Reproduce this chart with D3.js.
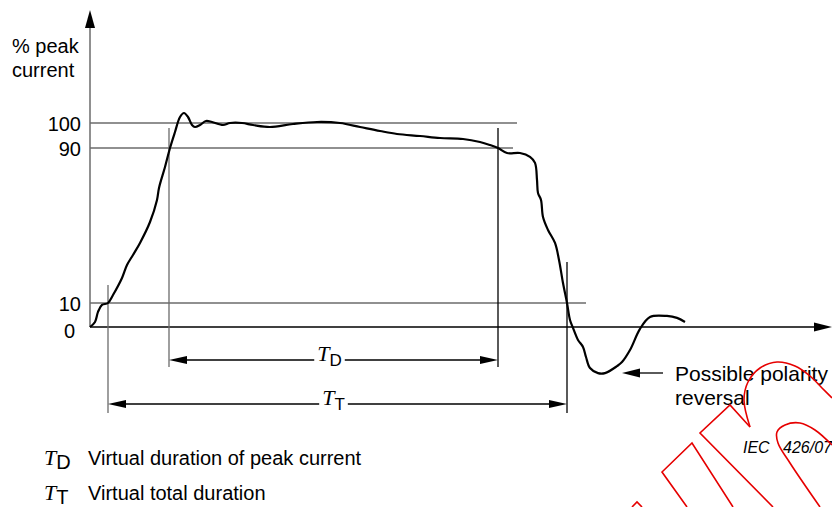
<!DOCTYPE html>
<html>
<head>
<meta charset="utf-8">
<title>Peak current - virtual durations</title>
<script src="https://cdn.jsdelivr.net/npm/d3@7"></script>
<style>
  body { margin: 0; background: #fff; }
  svg { display: block; font-family: "Liberation Sans", Arial, sans-serif; }
</style>
</head>
<body>
<svg id="chart" width="832" height="507"></svg>
<script>
  // waveform: time (arbitrary units) and current (% of peak)
  const waveTime = [0, 1.25, 2, 3, 4.5, 5.75, 8, 9.25, 10.75, 12.5, 15, 16.75, 17.25, 18.75, 20,
    21.25, 22.5, 23.5, 24.5, 25.5, 26.25, 27.5, 29, 30.5, 33.25, 35, 38, 40.75, 45, 50.75,
    56.75, 62.5, 67.5, 72.5, 76.75, 82.5, 87.5, 93.25, 97.5, 100, 102, 104.25, 107.5, 110, 111.25,
    111.75, 112, 112.75, 113.25, 114.5, 116.25, 117.25, 118.25, 119.25, 120, 120.75, 122, 123.25, 124, 125,
    127, 128.75, 131.75, 133, 135, 137.5, 140, 144.25, 146.75, 148.75];
  const waveCurrent = [0, 2.1, 6.3, 9.2, 10, 14.1, 22.9, 29.6, 34.8, 41, 51.8, 63.2, 69.4, 80.2, 90,
    96.4, 102.4, 104, 102.4, 99.2, 98.4, 99.2, 100.8, 100.4, 99.2, 100, 100, 99.2, 98.4, 99.6,
    100.4, 100, 98.4, 96.8, 95.6, 94.8, 94, 93.6, 92.4, 91.2, 90, 87.4, 87.4, 85.4, 82.3,
    73.5, 66.8, 63.2, 54.4, 47.7, 41, 32.2, 20.3, 10, 2.9, -0.4, -5.4, -8.3, -12.5, -17.1,
    -19.2, -19.2, -16.3, -14.6, -9.6, -0.8, 4.2, 4.6, 3.8, 2.1];

  const yTicks = [0, 10, 90, 100];
  const levels = [100, 90, 10];
  const levelEnds = [106.75, 105.75, 124];          // time where each level line stops
  const markerTimes = [4.5, 19.75, 102, 119.25];    // 10% rise, 90% rise, 90% fall, 10% fall
  const durationNames = ["D", "T"];
  const legendText = ["Virtual duration of peak current", "Virtual total duration"];

  const svg = d3.select("#chart");
  const grey = "#6b6b6b";

  // the figure is schematic, so the y axis is stretched between 10 and 90
  const x = d3.scaleLinear().domain([0, 185.5]).range([90, 832]);
  const y = d3.scaleLinear().domain([0, 10, 90, 100]).range([327, 303, 148, 123]);

  function arrowHead(g, tipX, tipY, dir, len, half, vertical) {
    let pts;
    if (vertical) pts = [[tipX, tipY], [tipX - half, tipY + dir * len], [tipX + half, tipY + dir * len]];
    else pts = [[tipX, tipY], [tipX + dir * len, tipY - half], [tipX + dir * len, tipY + half]];
    g.append("path")
      .attr("d", "M" + pts.join("L") + "Z")
      .attr("fill", "#000");
  }

  // level lines
  svg.append("g")
    .selectAll("line")
    .data(levels)
    .join("line")
      .attr("x1", x(0))
      .attr("x2", (d, i) => x(levelEnds[i]))
      .attr("y1", d => y(d))
      .attr("y2", d => y(d))
      .attr("stroke", grey)
      .attr("stroke-width", 1.5);

  // axes
  const axes = svg.append("g");
  axes.append("line")
    .attr("x1", x(0)).attr("x2", x(0))
    .attr("y1", y(0)).attr("y2", 24)
    .attr("stroke", grey).attr("stroke-width", 1.5);
  arrowHead(axes, x(0), 10, 1, 18, 5, true);
  axes.append("line")
    .attr("x1", x(0)).attr("x2", 818)
    .attr("y1", y(0)).attr("y2", y(0))
    .attr("stroke", "#000").attr("stroke-width", 1.3);
  arrowHead(axes, 832, y(0), -1, 18, 4.5, false);

  const yAxis = svg.append("g")
    .attr("transform", "translate(" + x(0) + ",0)")
    .call(d3.axisLeft(y).tickValues(yTicks).tickSize(0).tickPadding(9).tickFormat(d3.format("d")));
  yAxis.select(".domain").remove();
  yAxis.selectAll("text")
    .attr("font-size", 20)
    .attr("font-family", "Liberation Sans, Arial, sans-serif")
    .attr("fill", "#000")
    .attr("dy", "0.38em");
  yAxis.selectAll(".tick").filter(d => d === 0).select("text")
    .attr("x", -15).attr("dy", "0.5em");

  svg.append("text")
    .attr("x", 12).attr("y", 53)
    .attr("font-size", 20)
    .text("% peak");
  svg.append("text")
    .attr("x", 12).attr("y", 77)
    .attr("font-size", 20)
    .text("current");

  // marker lines at the 10 % and 90 % crossings
  const markerTop = [285, 128, 128, 262];
  const markerBottom = [413, 367, 367, 413];
  const markerColour = [grey, grey, "#000", "#000"];
  svg.append("g")
    .selectAll("line")
    .data(markerTimes)
    .join("line")
      .attr("x1", d => x(d)).attr("x2", d => x(d))
      .attr("y1", (d, i) => markerTop[i])
      .attr("y2", (d, i) => markerBottom[i])
      .attr("stroke", (d, i) => markerColour[i])
      .attr("stroke-width", 1.3);

  // waveform
  const line = d3.line()
    .x((d, i) => x(waveTime[i]))
    .y(d => y(d))
    .curve(d3.curveCatmullRom.alpha(0.5));
  svg.append("path")
    .datum(waveCurrent)
    .attr("d", line)
    .attr("fill", "none")
    .attr("stroke", "#000")
    .attr("stroke-width", 2.2)
    .attr("stroke-linejoin", "round");

  // T label with subscript
  function tLabel(g, cx, by, sub, size, subSize, subDy) {
    const t = g.append("text")
      .attr("x", cx).attr("y", by)
      .attr("text-anchor", cx === null ? "start" : "middle");
    t.append("tspan")
      .attr("font-family", "Liberation Serif, Times New Roman, serif")
      .attr("font-style", "italic")
      .attr("font-size", size)
      .text("T");
    t.append("tspan")
      .attr("font-size", subSize)
      .attr("dy", subDy)
      .text(sub);
    return t;
  }

  // duration arrows
  const spans = [[markerTimes[1], markerTimes[2]], [markerTimes[0], markerTimes[3]]];
  const rowY = [360, 404];
  spans.forEach(function(s, i) {
    const g = svg.append("g");
    const x0 = x(s[0]), x1 = x(s[1]);
    const label = tLabel(g, (x0 + x1) / 2 - 4, rowY[i] + 1, durationNames[i], 22, 17, 5);
    const box = label.node().getBBox();
    g.append("line")
      .attr("x1", x0 + 10).attr("x2", box.x - 3)
      .attr("y1", rowY[i]).attr("y2", rowY[i])
      .attr("stroke", "#000").attr("stroke-width", 1.3);
    g.append("line")
      .attr("x1", box.x + box.width + 3).attr("x2", x1 - 10)
      .attr("y1", rowY[i]).attr("y2", rowY[i])
      .attr("stroke", "#000").attr("stroke-width", 1.3);
    arrowHead(g, x0, rowY[i], 1, 18, 4, false);
    arrowHead(g, x1, rowY[i], -1, 18, 4, false);
  });

  // polarity reversal note
  const note = svg.append("g");
  note.append("line")
    .attr("x1", 636).attr("x2", 663)
    .attr("y1", 373).attr("y2", 373)
    .attr("stroke", "#000").attr("stroke-width", 1.3);
  arrowHead(note, 622, 373, 1, 18, 4.5, false);
  note.append("text")
    .attr("x", 675).attr("y", 381)
    .attr("font-size", 21)
    .text("Possible polarity");
  note.append("text")
    .attr("x", 675).attr("y", 405)
    .attr("font-size", 21)
    .text("reversal");

  // legend
  legendText.forEach(function(d, i) {
    const by = 465 + i * 35;
    const t = svg.append("text")
      .attr("x", 44).attr("y", by);
    t.append("tspan")
      .attr("font-family", "Liberation Serif, Times New Roman, serif")
      .attr("font-style", "italic")
      .attr("font-size", 22)
      .text("T");
    t.append("tspan")
      .attr("font-size", 20)
      .attr("dy", 4)
      .text(durationNames[i]);
    svg.append("text")
      .attr("x", 88).attr("y", by)
      .attr("font-size", 20)
      .text(d);
  });

  svg.append("text")
    .attr("x", 743).attr("y", 453)
    .attr("font-size", 16)
    .attr("font-style", "italic")
    .attr("xml:space", "preserve")
    .text("IEC   426/07");

  // red stamp outline over the lower right corner
  const stampStrokes = [
    [[750, 427], [744, 400], [748, 382], [760, 368], [777, 362], [795, 366], [810, 376], [822, 388], [832, 398]],
    [[750, 427], [730, 405], [700, 433], [773, 507]],
    [[733, 507], [692, 443], [662, 472], [687, 507]],
    [[820, 507], [790, 463], [778, 443], [777, 432], [785, 425], [800, 423], [815, 430], [832, 445]],
    [[632, 507], [637, 502], [642, 507]]
  ];
  svg.append("g")
    .selectAll("path")
    .data(stampStrokes)
    .join("path")
      .attr("d", d => d.length > 4 ? d3.line().curve(d3.curveCatmullRom)(d) : d3.line()(d))
      .attr("fill", "none")
      .attr("stroke", "#e60000")
      .attr("stroke-width", 1.6);
</script>
</body>
</html>
